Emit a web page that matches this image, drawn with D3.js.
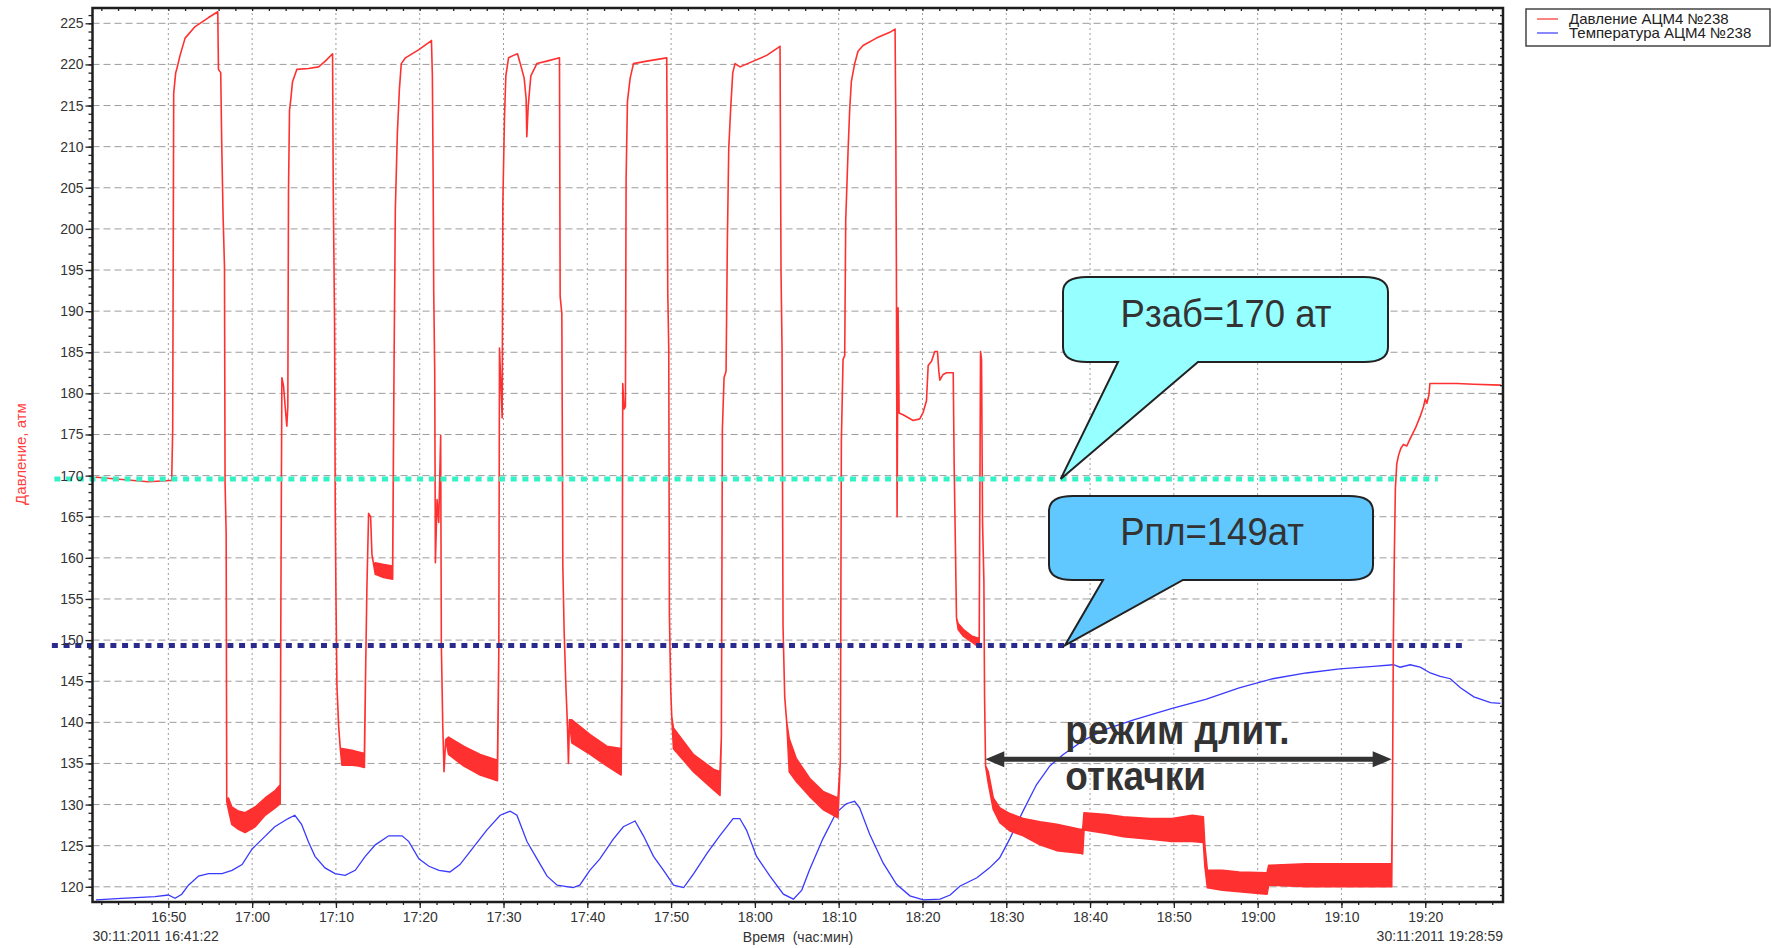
<!DOCTYPE html>
<html>
<head>
<meta charset="utf-8">
<script src="https://cdn.jsdelivr.net/npm/d3@7"></script>
<style>
  body { margin: 0; background: #fff; }
</style>
</head>
<body>
<div class="container"></div>
<script>
// all times are minutes after 16:00 on 30.11.2011
const startMin = 41 + 22 / 60;   // 16:41:22
const endMin = 208 + 59 / 60;    // 19:28:59

// pressure trace: [time, low, high] -- low/high differ where the gauge oscillates
const pressure = [
  [41.37, 169.8, 169.8], [47.6, 169.25, 169.25], [50.2, 169.4, 169.4], [50.4, 169.4, 169.4],
  [50.52, 175.6, 175.6], [50.64, 216.5, 216.5], [50.88, 219.0, 219.0], [51.0, 219.4, 219.4],
  [51.4, 221.1, 221.1], [52.0, 223.2, 223.2], [53.2, 224.6, 224.6], [54.8, 225.7, 225.7],
  [55.9, 226.4, 226.4], [55.98, 219.4, 219.4], [56.25, 219.0, 219.0], [56.37, 210.5, 210.5],
  [56.53, 201.7, 201.7], [56.7, 195.4, 195.4], [56.77, 169.2, 169.2], [56.9, 162.9, 162.9],
  [56.97, 130.4, 130.4],
  [57.17, 129.4, 130.8], [57.57, 127.6, 129.7], [58.37, 127.0, 129.2], [59.16, 126.6, 129.0],
  [60.36, 127.3, 129.7], [61.55, 128.7, 130.8], [62.75, 129.6, 131.7], [63.35, 130.1, 132.4],
  [63.43, 154.1, 154.1], [63.55, 181.9, 181.9], [63.75, 180.9, 180.9], [63.94, 178.4, 178.4],
  [64.14, 176.0, 176.0], [64.26, 178.4, 178.4], [64.34, 204.5, 204.5], [64.46, 214.4, 214.4],
  [64.62, 215.8, 215.8], [64.82, 217.9, 217.9], [65.34, 219.4, 219.4], [66.73, 219.5, 219.5],
  [67.93, 219.7, 219.7], [68.73, 220.4, 220.4], [69.6, 221.3, 221.3],
  [69.68, 204.9, 204.9], [69.84, 188.3, 188.3], [69.92, 165.7, 165.7], [70.0, 155.8, 155.8],
  [70.12, 144.5, 144.5], [70.32, 139.6, 139.6], [70.52, 136.8, 136.8],
  [70.72, 134.8, 136.8], [71.9, 134.8, 136.6], [72.7, 134.7, 136.4], [73.4, 134.5, 136.2],
  [73.55, 146.7, 146.7], [73.7, 156.5, 156.5], [73.9, 165.4, 165.4], [74.14, 165.0, 165.0],
  [74.3, 160.4, 160.4], [74.5, 159.2, 159.2],
  [74.7, 158.0, 159.4], [75.7, 157.6, 159.2], [76.77, 157.4, 159.0],
  [76.93, 182.7, 182.7], [77.09, 202.4, 202.4], [77.33, 211.6, 211.6], [77.57, 216.9, 216.9],
  [77.8, 220.1, 220.1], [78.3, 220.8, 220.8], [79.9, 221.8, 221.8], [81.4, 222.9, 222.9],
  [81.51, 218.6, 218.6], [81.6, 206.6, 206.6], [81.67, 192.5, 192.5], [81.79, 182.7, 182.7],
  [81.87, 159.4, 159.4], [82.07, 167.1, 167.1], [82.27, 164.3, 164.3], [82.5, 174.9, 174.9],
  [82.58, 149.5, 149.5], [82.75, 139.6, 139.6], [82.9, 134.0, 134.0], [83.1, 137.9, 137.9],
  [83.44, 136.1, 138.2], [85.23, 134.7, 137.1], [87.22, 133.6, 136.1], [89.28, 132.9, 135.4],
  [89.44, 148.8, 148.8], [89.52, 185.5, 185.5], [89.68, 181.2, 181.2], [89.84, 177.0, 177.0],
  [89.92, 203.1, 203.1], [90.12, 213.7, 213.7], [90.28, 218.6, 218.6], [90.6, 220.8, 220.8],
  [91.19, 221.1, 221.1], [91.67, 221.3, 221.3], [92.19, 219.4, 219.4], [92.47, 218.3, 218.3],
  [92.7, 215.8, 215.8], [92.78, 211.2, 211.2], [92.94, 214.8, 214.8], [93.26, 218.6, 218.6],
  [93.98, 220.1, 220.1], [95.17, 220.4, 220.4], [96.68, 220.8, 220.8],
  [96.76, 191.8, 191.8], [96.96, 189.7, 189.7], [97.08, 159.0, 159.0], [97.24, 150.9, 150.9],
  [97.44, 144.5, 144.5], [97.63, 139.6, 139.6], [97.75, 135.0, 135.0], [97.87, 140.3, 140.3],
  [98.15, 137.5, 140.3], [100.34, 136.1, 138.5], [102.33, 134.7, 137.1], [104.04, 133.6, 136.8],
  [104.16, 147.7, 147.7], [104.23, 181.2, 181.2], [104.39, 178.1, 178.1], [104.55, 178.4, 178.4],
  [104.63, 206.0, 206.0], [104.79, 215.5, 215.5], [105.11, 218.3, 218.3], [105.51, 220.1, 220.1],
  [107.1, 220.4, 220.4], [109.48, 220.8, 220.8],
  [109.6, 192.5, 192.5], [109.72, 185.5, 185.5], [109.8, 153.0, 153.0], [109.96, 143.8, 143.8],
  [110.08, 140.7, 140.7],
  [110.28, 136.8, 139.3], [112.66, 134.0, 136.1], [115.05, 131.8, 134.3], [115.84, 131.1, 134.0],
  [116.0, 138.2, 138.2], [116.12, 175.6, 175.6], [116.32, 181.9, 181.9], [116.56, 182.7, 182.7],
  [116.72, 198.9, 198.9], [116.88, 209.8, 209.8], [117.12, 214.8, 214.8], [117.36, 219.0, 219.0],
  [117.63, 220.1, 220.1], [118.23, 219.7, 219.7], [119.82, 220.4, 220.4], [121.41, 221.1, 221.1],
  [123.0, 222.2, 222.2],
  [123.12, 194.7, 194.7], [123.24, 185.5, 185.5], [123.36, 151.6, 151.6], [123.56, 143.1, 143.1],
  [123.8, 140.0, 140.0],
  [124.1, 134.0, 138.0], [124.94, 132.8, 135.6], [126.53, 131.0, 133.2], [128.13, 129.4, 131.6],
  [129.92, 128.4, 130.8],
  [130.2, 135.4, 135.4], [130.32, 174.2, 174.2], [130.52, 184.1, 184.1], [130.72, 184.6, 184.6],
  [130.84, 201.0, 201.0], [131.12, 209.5, 209.5], [131.31, 214.4, 214.4], [131.51, 217.9, 217.9],
  [131.91, 220.1, 220.1], [132.31, 221.6, 221.6], [132.91, 222.3, 222.3], [134.5, 223.2, 223.2],
  [136.1, 223.9, 223.9], [136.73, 224.3, 224.3],
  [136.81, 213.7, 213.7], [136.89, 194.7, 194.7], [136.97, 165.0, 165.0], [137.09, 190.4, 190.4],
  [137.21, 177.6, 177.6], [137.69, 177.4, 177.4], [138.88, 176.7, 176.7], [139.68, 176.9, 176.9],
  [140.08, 177.7, 177.7], [140.48, 179.1, 179.1], [140.68, 183.4, 183.4], [141.08, 183.9, 183.9],
  [141.47, 185.1, 185.1], [141.79, 185.1, 185.1], [141.95, 182.7, 182.7], [142.07, 181.6, 181.6],
  [142.47, 182.3, 182.3], [142.87, 182.5, 182.5], [143.67, 182.5, 182.5],
  [143.78, 171.4, 171.4], [143.94, 160.8, 160.8], [144.06, 152.7, 152.7],
  [144.26, 151.3, 152.0], [144.86, 150.5, 151.3], [145.86, 149.8, 150.5], [146.77, 149.1, 150.2],
  [146.93, 185.1, 185.1], [147.05, 184.1, 184.1], [147.17, 164.3, 164.3], [147.33, 157.2, 157.2],
  [147.41, 143.1, 143.1], [147.53, 134.7, 134.7],
  [147.85, 132.6, 134.0], [148.45, 129.4, 130.8], [149.24, 127.8, 129.6], [150.44, 126.8, 128.9],
  [152.03, 126.2, 128.3], [154.02, 125.1, 127.9], [156.02, 124.4, 127.6], [158.8, 124.1, 127.0],
  [159.12, 124.0, 127.0],
  [159.28, 126.9, 129.0], [161.99, 126.5, 128.8], [163.98, 126.1, 128.5], [167.17, 125.8, 128.3],
  [169.8, 125.5, 128.3], [172.2, 125.5, 128.7], [173.52, 125.4, 128.5],
  [173.7, 122.5, 125.0], [174.0, 119.9, 122.0], [175.8, 119.6, 122.0], [177.8, 119.4, 121.8],
  [181.12, 119.1, 121.7],
  [181.32, 120.2, 122.6], [185.8, 120.0, 122.8], [189.8, 120.0, 122.8], [196.0, 120.0, 122.8],
  [196.08, 129.7, 129.7], [196.2, 150.2, 150.2], [196.32, 160.8, 160.8], [196.44, 168.5, 168.5],
  [196.6, 171.4, 171.4], [196.8, 172.4, 172.4], [197.08, 173.3, 173.3], [197.4, 173.8, 173.8],
  [197.8, 173.6, 173.6], [198.2, 174.5, 174.5], [198.8, 175.7, 175.7], [199.4, 177.2, 177.2],
  [199.8, 178.4, 178.4], [200.0, 179.3, 179.3], [200.2, 178.8, 178.8], [200.44, 179.8, 179.8],
  [200.56, 181.2, 181.2], [203.8, 181.2, 181.2], [205.8, 181.1, 181.1], [208.98, 181.0, 181.0]
];

// temperature trace: [time, value] (drawn on the same scale)
const temperature = [
  [41.37, 118.4], [44.4, 118.6], [48.4, 118.8], [50.0, 119.0], [50.8, 118.6], [51.6, 119.1],
  [52.4, 120.2], [53.6, 121.3], [54.8, 121.6], [56.4, 121.6], [57.6, 122.0], [58.8, 122.7],
  [60.0, 124.6], [61.2, 125.8], [62.7, 127.3], [64.3, 128.3], [65.1, 128.7], [65.9, 127.6],
  [66.7, 125.5], [67.5, 123.7], [68.7, 122.3], [69.9, 121.6], [71.1, 121.4], [72.3, 122.0],
  [73.5, 123.7], [74.7, 125.1], [76.3, 126.2], [77.9, 126.2], [78.7, 125.5], [79.9, 123.4],
  [81.1, 122.5], [82.3, 122.0], [83.6, 121.8], [84.8, 122.7], [86.4, 124.8], [88.0, 126.9],
  [89.6, 128.7], [90.8, 129.2], [91.6, 128.7], [92.8, 125.5], [94.0, 123.4], [95.2, 121.3],
  [96.4, 120.2], [98.3, 119.9], [99.1, 120.2], [100.3, 122.0], [101.5, 123.4], [103.1, 125.8],
  [104.3, 127.3], [105.7, 128.0], [106.7, 126.2], [107.9, 123.7], [109.1, 122.0], [110.3, 120.2],
  [111.5, 119.9], [112.7, 121.6], [114.3, 124.1], [115.8, 126.2], [117.4, 128.3], [118.2, 128.3],
  [119.0, 126.9], [120.2, 123.7], [121.8, 121.3], [123.4, 119.1], [124.6, 118.5], [125.6, 119.6],
  [126.5, 122.0], [128.1, 125.8], [129.7, 129.0], [130.9, 130.1], [131.9, 130.4], [132.5, 129.6],
  [133.7, 126.4], [135.3, 122.9], [136.9, 120.3], [138.5, 118.9], [140.1, 118.4], [142.1, 118.5],
  [143.3, 119.0], [144.5, 120.1], [146.5, 121.1], [148.0, 122.3], [149.2, 123.5], [150.4, 125.8],
  [152.0, 129.2], [153.6, 132.4], [155.2, 134.7], [156.8, 136.1], [159.2, 137.8], [162.0, 139.2],
  [165.2, 140.3], [169.8, 141.7], [173.8, 142.8], [177.8, 144.2], [181.8, 145.3], [185.8, 146.0],
  [189.8, 146.5], [193.8, 146.8], [196.2, 147.0], [197.0, 146.7], [198.2, 147.0], [199.4, 146.7],
  [200.6, 146.0], [201.8, 145.6], [203.0, 145.3], [204.2, 144.2], [205.8, 143.1], [207.8, 142.4],
  [208.98, 142.3]
];

const yTickValues = [120, 125, 130, 135, 140, 145, 150, 155, 160, 165, 170, 175, 180, 185,
  190, 195, 200, 205, 210, 215, 220, 225];
const xTickLabels = ['16:50', '17:00', '17:10', '17:20', '17:30', '17:40', '17:50', '18:00',
  '18:10', '18:20', '18:30', '18:40', '18:50', '19:00', '19:10', '19:20'];

const seriesNames = ['Давление АЦМ4 №238', 'Температура АЦМ4 №238'];
const seriesColors = ['#ff3030', '#3a3aff'];

// reference levels drawn as dotted lines: value, start, end (minutes)
const refValue = [169.6, 149.35];
const refStart = [36.4, 36.1];
const refEnd = [201.5, 205.0];
const refColor = ['#33f2c6', '#2a2a8c'];

// callouts pointing at the reference lines: label, tip time
const calloutText = ['Рзаб=170 ат', 'Рпл=149ат'];
const calloutTipTime = [156.5, 157.0];

// long drawdown arrow: start, end, level
const arrowSpan = [147.5, 196.0];
const arrowLevel = 135.5;

const w = 1771;
const h = 948;
const frame = { left: 92.5, right: 1503, top: 8, bottom: 902 };

const base = new Date(2011, 10, 30, 16, 0, 0);
const T = m => new Date(base.getTime() + m * 60000);
const labelToMin = s => {
  const [hh, mm] = s.split(':').map(Number);
  return (hh - 16) * 60 + mm;
};

const svg = d3.select('.container')
  .append('svg')
  .attr('width', w)
  .attr('height', h)
  .style('font-family', '"Liberation Sans", Arial, sans-serif');

const x = d3.scaleTime().domain([T(startMin), T(endMin)]).range([96, 1500.5]);
const y = d3.scaleLinear().domain([120, 225]).range([886.8, 23.3]);

// grid
svg.append('g')
  .selectAll('line')
  .data(yTickValues)
  .join('line')
  .attr('x1', frame.left).attr('x2', frame.right)
  .attr('y1', d => y(d)).attr('y2', d => y(d))
  .attr('stroke', '#9c9c9c')
  .attr('stroke-dasharray', '7,4');

const xTicks = xTickLabels.map(s => T(labelToMin(s)));
svg.append('g')
  .selectAll('line')
  .data(xTicks)
  .join('line')
  .attr('x1', d => x(d)).attr('x2', d => x(d))
  .attr('y1', frame.top).attr('y2', frame.bottom)
  .attr('stroke', '#9c9c9c')
  .attr('stroke-dasharray', '2,3');

// temperature
const tempLine = d3.line()
  .x(d => x(T(d[0])))
  .y(d => y(d[1]));
svg.append('path')
  .datum(temperature)
  .attr('d', tempLine)
  .attr('fill', 'none')
  .attr('stroke', seriesColors[1])
  .attr('stroke-width', 1.3);

// pressure (band + outline)
const pArea = d3.area()
  .x(d => x(T(d[0])))
  .y0(d => y(d[1]))
  .y1(d => y(d[2]));
svg.append('path')
  .datum(pressure)
  .attr('d', pArea)
  .attr('fill', seriesColors[0])
  .attr('stroke', seriesColors[0])
  .attr('stroke-width', 1.6)
  .attr('stroke-linejoin', 'round');

// reference lines
svg.append('g')
  .selectAll('line')
  .data(refValue)
  .join('line')
  .attr('x1', (d, i) => x(T(refStart[i])))
  .attr('x2', (d, i) => x(T(refEnd[i])))
  .attr('y1', d => y(d)).attr('y2', d => y(d))
  .attr('stroke', (d, i) => refColor[i])
  .attr('stroke-width', 5)
  .attr('stroke-dasharray', '6,5.7');

// callouts
const calloutBox = [
  { x0: 1063, x1: 1388, y0: 277, y1: 362, a: 1118, b: 1198, fill: '#96ffff', tx: 1226, ty: 327 },
  { x0: 1049, x1: 1373, y0: 496, y1: 580, a: 1103, b: 1183, fill: '#61c7ff', tx: 1212, ty: 545 }
];
calloutBox.forEach((c, i) => {
  const tipX = x(T(calloutTipTime[i]));
  const tipY = y(refValue[i]);
  const rx = 24, ry = 15;
  const p = d3.path();
  p.moveTo(c.x0 + rx, c.y0);
  p.lineTo(c.x1 - rx, c.y0);
  p.quadraticCurveTo(c.x1, c.y0, c.x1, c.y0 + ry);
  p.lineTo(c.x1, c.y1 - ry);
  p.quadraticCurveTo(c.x1, c.y1, c.x1 - rx, c.y1);
  p.lineTo(c.b, c.y1);
  p.lineTo(tipX, tipY);
  p.lineTo(c.a, c.y1);
  p.lineTo(c.x0 + rx, c.y1);
  p.quadraticCurveTo(c.x0, c.y1, c.x0, c.y1 - ry);
  p.lineTo(c.x0, c.y0 + ry);
  p.quadraticCurveTo(c.x0, c.y0, c.x0 + rx, c.y0);
  p.closePath();
  svg.append('path')
    .attr('d', p.toString())
    .attr('fill', c.fill)
    .attr('stroke', '#222')
    .attr('stroke-width', 2);
  svg.append('text')
    .attr('transform', `translate(${c.tx},${c.ty}) scale(1,1.08)`)
    .attr('text-anchor', 'middle')
    .style('font-size', '36.5px')
    .attr('fill', '#333')
    .text(calloutText[i]);
});

// arrow
const ax0 = x(T(arrowSpan[0]));
const ax1 = x(T(arrowSpan[1]));
const ay = y(arrowLevel);
const headL = 19, headW = 8;
svg.append('line')
  .attr('x1', ax0 + headL - 2).attr('x2', ax1 - headL + 2)
  .attr('y1', ay).attr('y2', ay)
  .attr('stroke', '#333')
  .attr('stroke-width', 5);
svg.append('path')
  .attr('d', `M${ax0},${ay}L${ax0 + headL},${ay - headW}L${ax0 + headL},${ay + headW}Z`)
  .attr('fill', '#333');
svg.append('path')
  .attr('d', `M${ax1},${ay}L${ax1 - headL},${ay - headW}L${ax1 - headL},${ay + headW}Z`)
  .attr('fill', '#333');

[['режим длит.', 744], ['откачки', 790]].forEach(([t, by]) => {
  svg.append('text')
    .attr('transform', `translate(${ax0 + 80},${by}) scale(1,1.1)`)
    .style('font-size', '37px')
    .style('font-weight', 'bold')
    .attr('fill', '#333')
    .text(t);
});

// axes
const styleAxis = g => {
  g.select('.domain').remove();
  g.selectAll('line').attr('stroke', '#222').attr('stroke-width', 1.3);
  g.selectAll('text').attr('fill', '#333').style('font-size', '14px')
    .style('font-family', '"Liberation Sans", Arial, sans-serif');
};

const minorY = d3.range(119, 227);
const minorX = d3.timeMinute.every(2).range(T(startMin), T(endMin));

svg.append('g')
  .attr('transform', `translate(${frame.left},0)`)
  .call(d3.axisLeft(y).tickValues(yTickValues).tickSize(7).tickPadding(2))
  .call(styleAxis);
svg.append('g')
  .attr('transform', `translate(${frame.left},0)`)
  .call(d3.axisLeft(y).tickValues(minorY).tickSize(4).tickFormat(''))
  .call(styleAxis);
svg.append('g')
  .attr('transform', `translate(${frame.right},0)`)
  .call(d3.axisLeft(y).tickValues(minorY).tickSize(3).tickFormat(''))
  .call(styleAxis);
svg.append('g')
  .attr('transform', `translate(${frame.right},0)`)
  .call(d3.axisLeft(y).tickValues(yTickValues).tickSize(5).tickFormat(''))
  .call(styleAxis);

svg.append('g')
  .attr('transform', `translate(0,${frame.bottom})`)
  .call(d3.axisBottom(x).tickValues(xTicks).tickFormat(d3.timeFormat('%H:%M')).tickSize(6).tickPadding(4))
  .call(styleAxis);
svg.append('g')
  .attr('transform', `translate(0,${frame.bottom})`)
  .call(d3.axisBottom(x).tickValues(minorX).tickSize(3).tickFormat(''))
  .call(styleAxis);
svg.append('g')
  .attr('transform', `translate(0,${frame.top})`)
  .call(d3.axisBottom(x).tickValues(minorX).tickSize(3).tickFormat(''))
  .call(styleAxis);

svg.append('rect')
  .attr('x', frame.left).attr('y', frame.top)
  .attr('width', frame.right - frame.left)
  .attr('height', frame.bottom - frame.top)
  .attr('fill', 'none')
  .attr('stroke', '#1e1e1e')
  .attr('stroke-width', 2.5);

// bottom captions
const fmtFull = d3.timeFormat('%d:%m:%Y %H:%M:%S');
svg.append('text')
  .attr('x', frame.left).attr('y', 940.5)
  .style('font-size', '14px').attr('fill', '#333')
  .text(fmtFull(T(startMin)));
svg.append('text')
  .attr('x', frame.right).attr('y', 940.5)
  .attr('text-anchor', 'end')
  .style('font-size', '14px').attr('fill', '#333')
  .text(fmtFull(T(endMin)));
svg.append('text')
  .attr('x', 798).attr('y', 941.5)
  .attr('text-anchor', 'middle')
  .style('font-size', '14px').attr('fill', '#333')
  .style('white-space', 'pre')
  .text('Время  (час:мин)');

// y label
svg.append('text')
  .attr('transform', 'translate(25.5,454) rotate(-90)')
  .attr('text-anchor', 'middle')
  .style('font-size', '15px')
  .attr('fill', '#ff4040')
  .text('Давление, атм');

// legend
const legend = svg.append('g');
legend.append('rect')
  .attr('x', 1526).attr('y', 9).attr('width', 244).attr('height', 37)
  .attr('fill', '#fff').attr('stroke', '#444').attr('stroke-width', 1.5);
legend.selectAll('g.item')
  .data(seriesNames)
  .join('g')
  .attr('class', 'item')
  .attr('transform', (d, i) => `translate(1537,${19 + i * 14})`)
  .each(function (d, i) {
    const g = d3.select(this);
    g.append('line').attr('x1', 0).attr('x2', 21).attr('y1', 0).attr('y2', 0)
      .attr('stroke', seriesColors[i]).attr('stroke-width', 1.2);
    g.append('text').attr('x', 32).attr('y', 5)
      .style('font-size', '15px').attr('fill', '#222').text(d);
  });
</script>
</body>
</html>
